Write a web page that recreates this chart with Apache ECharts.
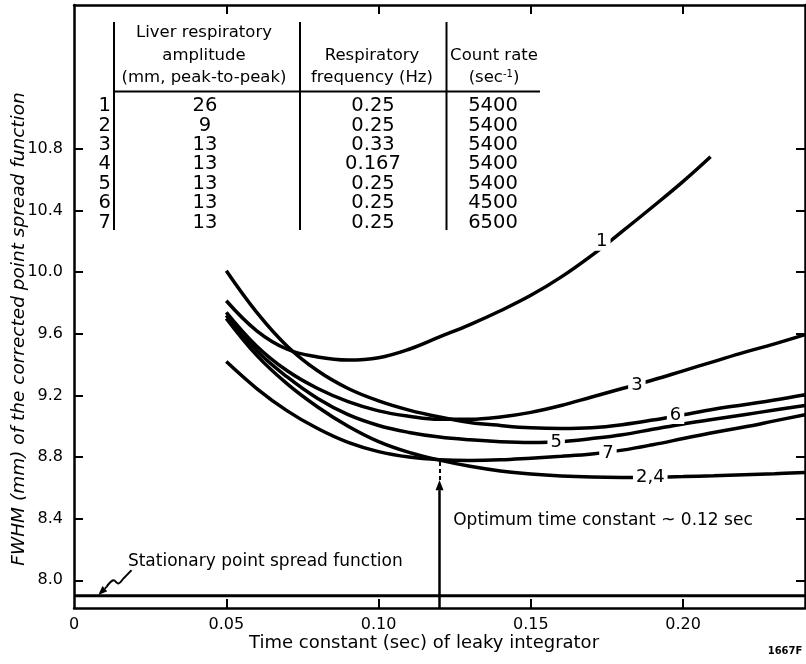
<!DOCTYPE html>
<html><head><meta charset="utf-8">
<script src="https://cdn.jsdelivr.net/npm/echarts@6/dist/echarts.min.js"></script>
<style>html,body{margin:0;padding:0;background:#fff}#c{width:806px;height:664px}</style>
</head><body><div id="c"></div>
<script>
// ---------- data ----------
const xLabelValues = [0, 0.05, 0.10, 0.15, 0.20];
const xTickValues = [0.05, 0.10, 0.15, 0.20];
const yTickValues = [8.0, 8.4, 8.8, 9.2, 9.6, 10.0, 10.4, 10.8];

const curve1 = [[0.050,9.815],[0.060,9.62],[0.070,9.50],[0.080,9.45],[0.090,9.43],[0.100,9.445],[0.110,9.50],[0.120,9.58],[0.130,9.66],[0.140,9.75],[0.150,9.85],[0.160,9.97],[0.170,10.11],[0.180,10.265],[0.190,10.425],[0.200,10.59],[0.209,10.75]];
const curve6 = [[0.050,10.01],[0.060,9.74],[0.070,9.52],[0.080,9.36],[0.090,9.245],[0.100,9.165],[0.110,9.105],[0.120,9.06],[0.130,9.025],[0.140,9.005],[0.150,8.99],[0.160,8.985],[0.170,8.99],[0.180,9.01],[0.190,9.04],[0.200,9.075],[0.210,9.11],[0.220,9.14],[0.230,9.17],[0.240,9.205]];
const curve3 = [[0.050,9.74],[0.060,9.52],[0.070,9.36],[0.080,9.245],[0.090,9.16],[0.100,9.10],[0.110,9.065],[0.120,9.045],[0.130,9.045],[0.140,9.06],[0.150,9.09],[0.160,9.135],[0.170,9.19],[0.180,9.245],[0.190,9.30],[0.200,9.36],[0.210,9.42],[0.220,9.48],[0.230,9.535],[0.240,9.595]];
const curve5 = [[0.050,9.72],[0.060,9.49],[0.070,9.32],[0.080,9.18],[0.090,9.075],[0.100,9.005],[0.110,8.96],[0.120,8.93],[0.130,8.912],[0.140,8.90],[0.150,8.895],[0.160,8.90],[0.170,8.92],[0.180,8.945],[0.190,8.98],[0.200,9.015],[0.210,9.045],[0.220,9.075],[0.230,9.105],[0.240,9.135]];
const curve7 = [[0.050,9.42],[0.060,9.245],[0.070,9.10],[0.080,8.985],[0.090,8.895],[0.100,8.835],[0.110,8.80],[0.120,8.783],[0.130,8.778],[0.140,8.782],[0.150,8.793],[0.160,8.805],[0.170,8.82],[0.180,8.845],[0.190,8.88],[0.200,8.92],[0.210,8.96],[0.220,8.995],[0.230,9.035],[0.240,9.075]];
const curve24 = [[0.050,9.70],[0.060,9.46],[0.070,9.275],[0.080,9.125],[0.090,9.00],[0.100,8.90],[0.110,8.83],[0.120,8.78],[0.130,8.74],[0.140,8.71],[0.150,8.69],[0.160,8.677],[0.170,8.67],[0.180,8.668],[0.190,8.67],[0.200,8.673],[0.210,8.678],[0.220,8.685],[0.230,8.692],[0.240,8.70]];

const stationaryFWHM = 7.9;
const stationaryT = [0, 0.24];
const optimumT = 0.12;
const optimumFWHM = 8.79;
const arrowTipV = 8.651;
const arrowBaseV = 8.585;

const curveLabels = ['1', '3', '6', '5', '7', '2,4'];
const curveLabelT = [0.1733, 0.1848, 0.1975, 0.1583, 0.1753, 0.1892];
const curveLabelV = [10.198, 9.263, 9.073, 8.897, 8.824, 8.669];

const tableIds = ['1','2','3','4','5','6','7'];
const amplitudes = ['26','9','13','13','13','13','13'];
const frequencies = ['0.25','0.25','0.33','0.167','0.25','0.25','0.25'];
const countRates = ['5400','5400','5400','5400','5400','4500','6500'];
const headAmp = ['Liver respiratory', 'amplitude', '(mm, peak-to-peak)'];
const headFreq = ['Respiratory', 'frequency (Hz)'];
const headCount = ['Count rate'];

const squiggleT = [0.0189, 0.0162, 0.0146, 0.0129, 0.0107];
const squiggleV = [8.066, 8.011, 7.979, 8.000, 7.957];
const squiggleTip = [0.0080, 7.905];

// ---------- chart ----------
const FONT = '"DejaVu Sans", Verdana, sans-serif';
const X_MIN = 0, X_MAX = 0.24, Y_MIN = 7.82, Y_MAX = 11.735;
const chart = echarts.init(document.getElementById('c'), null, {renderer: 'canvas'});

const axisLineStyle = {color: '#000', width: 2.5};
const tickStyle = {color: '#000', width: 2};

function curveSeries(name, data) {
  return {
    name, type: 'line', data, smooth: 0.4, showSymbol: false, symbol: 'none',
    lineStyle: {color: '#000', width: 3.5}, z: 3, silent: true
  };
}

const labelPoints = curveLabels.map((n, i) => ({name: n, coord: [curveLabelT[i], curveLabelV[i]]}));

const option = {
  animation: false,
  backgroundColor: '#fff',
  grid: {left: 74, right: 1, top: 5, bottom: 56, containLabel: false},
  xAxis: [{
    type: 'value', min: X_MIN, max: X_MAX, position: 'bottom',
    axisLine: {show: true, onZero: false, lineStyle: axisLineStyle},
    axisTick: {show: true, inside: true, length: 9, lineStyle: tickStyle, customValues: xTickValues},
    axisLabel: {show: true, customValues: xLabelValues, color: '#000', fontSize: 16, fontFamily: FONT, margin: 9,
      formatter: v => (v === 0 ? '0' : v.toFixed(2))},
    splitLine: {show: false}
  }, {
    type: 'value', min: X_MIN, max: X_MAX, position: 'top',
    axisLine: {show: true, onZero: false, lineStyle: axisLineStyle},
    axisTick: {show: true, inside: true, length: 9, lineStyle: tickStyle, customValues: xTickValues},
    axisLabel: {show: false}, splitLine: {show: false}
  }],
  yAxis: [{
    type: 'value', min: Y_MIN, max: Y_MAX, position: 'left',
    axisLine: {show: true, onZero: false, lineStyle: axisLineStyle},
    axisTick: {show: true, inside: true, length: 9, lineStyle: tickStyle, customValues: yTickValues},
    axisLabel: {show: true, customValues: yTickValues, color: '#000', fontSize: 16, fontFamily: FONT, margin: 11,
      formatter: v => v.toFixed(1)},
    splitLine: {show: false}
  }, {
    type: 'value', min: Y_MIN, max: Y_MAX, position: 'right',
    axisLine: {show: true, onZero: false, lineStyle: axisLineStyle},
    axisTick: {show: true, inside: true, length: 9, lineStyle: tickStyle, customValues: yTickValues},
    axisLabel: {show: false}, splitLine: {show: false}
  }],
  series: [
    curveSeries('1', curve1),
    curveSeries('6', curve6),
    curveSeries('3', curve3),
    curveSeries('5', curve5),
    curveSeries('7', curve7),
    curveSeries('2,4', curve24),
    {
      name: 'stationary', type: 'line', showSymbol: false, symbol: 'none',
      data: stationaryT.map(t => [t, stationaryFWHM]),
      lineStyle: {color: '#000', width: 3}, z: 3
    },
    {
      name: 'arrow', type: 'line', data: [], z: 4,
      markLine: {
        silent: true, symbol: ['none', 'none'],
        lineStyle: {color: '#000', width: 2.5, type: 'solid'},
        label: {show: false},
        data: [[{coord: [optimumT, Y_MIN]}, {coord: [optimumT, arrowBaseV]}]]
      }
    },
    {
      name: 'arrowDash', type: 'line', data: [], z: 4,
      markLine: {
        silent: true, symbol: ['none', 'none'],
        lineStyle: {color: '#000', width: 2, type: [4, 3]},
        label: {show: false},
        data: [[{coord: [optimumT, arrowTipV]}, {coord: [optimumT, optimumFWHM]}]]
      }
    },
    {
      name: 'labels', type: 'line', data: [], z: 10,
      markPoint: {
        silent: true, symbol: 'rect', symbolSize: 0,
        label: {show: true, position: 'inside', formatter: '{b}', color: '#000', fontSize: 18, fontFamily: FONT,
          backgroundColor: '#fff', padding: [0, 3, 0, 3]},
        data: labelPoints
      }
    },
    {
      name: 'notes', type: 'line', data: [], z: 10,
      markPoint: {
        silent: true, symbol: 'rect', symbolSize: 0,
        label: {show: true, position: 'right', distance: 0, formatter: '{b}', color: '#000', fontSize: 17, fontFamily: FONT},
        data: [
          {name: 'Stationary point spread function', coord: [0.0177, 8.12]},
          {name: 'Optimum time constant ~ 0.12 sec', coord: [0.1245, 8.39]}
        ]
      }
    }
  ]
};
chart.setOption(option);

// ---------- graphic: table, titles, squiggle, arrowhead, figure id ----------
const g = [];
const txt = (text, x, y, size, align, extra) => Object.assign({
  type: 'text', x, y, silent: true,
  style: Object.assign({text, fill: '#000', font: size + 'px ' + FONT, align: align || 'center', verticalAlign: 'middle'}, extra || {})
});
// axis titles
g.push({type: 'text', x: 19, y: 329, rotation: Math.PI / 2, silent: true,
  style: {text: 'FWHM (mm) of the corrected point spread function', fill: '#000',
    font: 'italic 18.5px ' + FONT, align: 'center', verticalAlign: 'middle'}});
g.push(txt('Time constant (sec) of leaky integrator', 424, 643, 18));
// figure id
g.push(txt('1667F', 785, 651, 10, 'center', {font: 'bold 10px ' + FONT}));
// table lines
const lineEl = (x1, y1, x2, y2) => ({type: 'line', silent: true, shape: {x1, y1, x2, y2}, style: {stroke: '#000', lineWidth: 2}});
g.push(lineEl(114, 22, 114, 230));
g.push(lineEl(300, 22, 300, 230));
g.push(lineEl(446.5, 22, 446.5, 230));
g.push(lineEl(113, 91.5, 540, 91.5));
// headers
const headY3 = [33, 56, 78];
headAmp.forEach((h, i) => g.push(txt(h, 204, headY3[i], 16.5)));
headFreq.forEach((h, i) => g.push(txt(h, 372, headY3[i + 1], 16.5)));
headCount.forEach((h, i) => g.push(txt(h, 494, headY3[i + 1], 16.5)));
g.push({type: 'text', x: 494, y: 78, silent: true, style: {
  text: '{a|(sec}{s|-1}{a|)}', fill: '#000', align: 'center', verticalAlign: 'middle',
  rich: {a: {font: '16.5px ' + FONT, fill: '#000'}, s: {font: '10px ' + FONT, fill: '#000', verticalAlign: 'top', padding: [0, 0, 8, 0]}}
}});
// rows
const rowY0 = 106, rowStep = 19.45;
tableIds.forEach((id, i) => {
  const y = rowY0 + i * rowStep;
  g.push(txt(id, 111, y, 19.5, 'right'));
  g.push(txt(amplitudes[i], 205, y, 19.5));
  g.push(txt(frequencies[i], 373, y, 19.5));
  g.push(txt(countRates[i], 493, y, 19.5));
});
// squiggle pointer to the stationary line
const toPx = p => chart.convertToPixel({xAxisIndex: 0, yAxisIndex: 0}, p);
const sq = squiggleT.map((t, i) => toPx([t, squiggleV[i]]));
const tip = toPx(squiggleTip);
g.push({type: 'polyline', silent: true, shape: {points: sq, smooth: 0.4}, style: {stroke: '#000', lineWidth: 2, fill: null}});
const last = sq[sq.length - 1];
const dx = tip[0] - last[0], dy = tip[1] - last[1];
const len = Math.hypot(dx, dy) || 1;
const ux = dx / len, uy = dy / len, px = -uy, py = ux;
const bx = tip[0] - ux * 9, by = tip[1] - uy * 9;
g.push({type: 'polyline', silent: true, shape: {points: [last, [bx, by]]}, style: {stroke: '#000', lineWidth: 2}});
g.push({type: 'polygon', silent: true, shape: {points: [tip, [bx + px * 3.5, by + py * 3.5], [bx - px * 3.5, by - py * 3.5]]}, style: {fill: '#000'}});
// optimum arrowhead
const aTip = toPx([optimumT, arrowTipV]);
const aBase = toPx([optimumT, arrowBaseV]);
g.push({type: 'polygon', silent: true, z: 5, shape: {points: [aTip, [aBase[0] - 4, aBase[1]], [aBase[0] + 4, aBase[1]]]}, style: {fill: '#000'}});

chart.setOption({graphic: g});
</script></body></html>
